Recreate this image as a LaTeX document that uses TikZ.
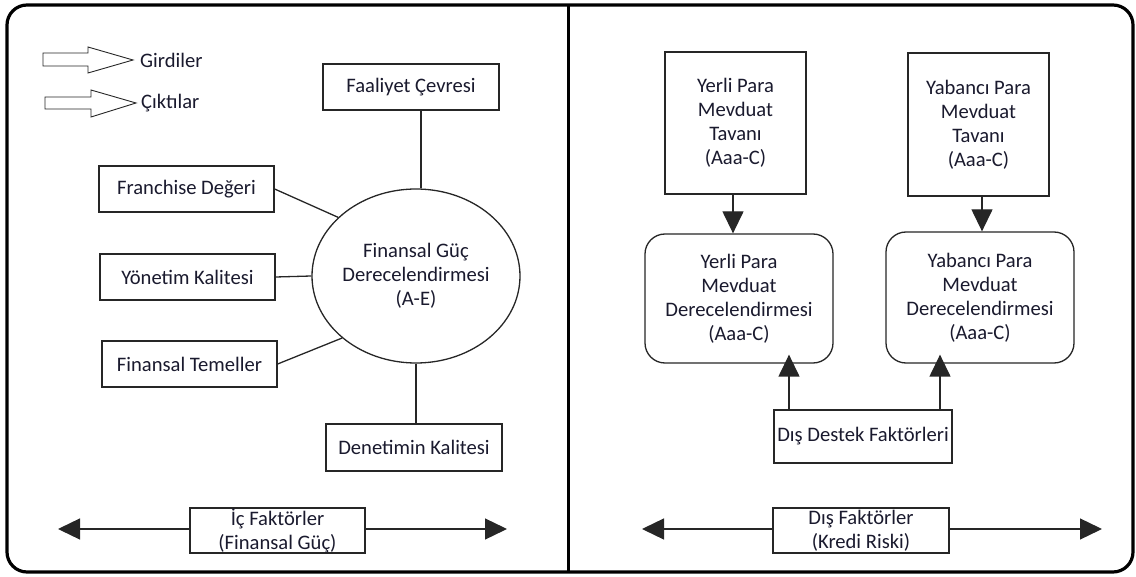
\documentclass[tikz,border=0pt]{standalone}
\usepackage{fontspec}
\setmainfont{Carlito}
\usetikzlibrary{arrows.meta,shapes.geometric}
\definecolor{txt}{HTML}{1A1A2E}
\begin{document}
\begin{tikzpicture}[x=1pt,y=-1pt,
  font=\fontsize{20.6}{24}\selectfont,
  box/.style={draw=black!85, line width=1.3pt, fill=white, text=txt, align=center, inner sep=0pt},
  rbox/.style={box, rounded corners=20pt},
  con/.style={draw=black!85, line width=1.3pt},
  tip/.style={con, -{Triangle[length=22pt,width=21pt]}},
  legarrow/.style={draw=black!85, line width=0.9pt, fill=white},
  lbl/.style={text=txt, inner sep=0pt, anchor=west}]
\useasboundingbox (0,0) rectangle (1136,577);
% frame
\draw[line width=3.2pt, rounded corners=20pt] (7,5) rectangle (1133,572);
\draw[line width=3.2pt] (568.5,5) -- (568.5,572);
% legend
\draw[legarrow] (43,53) -- (88,53) -- (88,47) -- (133,60) -- (88,73) -- (88,66) -- (43,66) -- cycle;
\node[lbl] (gir) at (140,60) {Girdiler};
\draw[legarrow] (45,97) -- (91,97) -- (91,90) -- (136,103) -- (91,117) -- (91,109) -- (45,109) -- cycle;
\node[lbl] (cik) at (141,103) {Çıktılar};
% left side
\node[box, minimum width=176pt, minimum height=46pt] (fa) at (411,87) {Faaliyet Çevresi};
\node[box, ellipse, minimum width=196pt, minimum height=174pt] (fg) at (416,276) {Finansal Güç\\Derecelendirmesi\\(A-E)};
\node[box, minimum width=175pt, minimum height=46pt] (fr) at (186.5,189) {Franchise Değeri};
\node[box, minimum width=175pt, minimum height=46pt] (yo) at (187.5,277) {Yönetim Kalitesi};
\node[box, minimum width=175pt, minimum height=46pt] (ft) at (189.5,364) {Finansal Temeller};
\node[box, minimum width=176pt, minimum height=47pt] (de) at (414,447.5) {Denetimin Kalitesi};
\draw[con] ([xshift=10pt]fa.south) -- ([xshift=5pt]fg.north);
\draw[con] (fr.east) -- (fg.143);
\draw[con] (yo.east) -- (fg.west);
\draw[con] (ft.east) -- (fg.220);
\draw[con] (fg.south) -- (fg.south |- de.north);
\node[box, minimum width=175pt, minimum height=45pt] (ic) at (277.5,530.5) {İç Faktörler\\(Finansal Güç)};
\coordinate (icL) at (58,529);
\coordinate (icR) at (507,529);
\draw[tip] (ic.west |- icL) -- (icL);
\draw[tip] (ic.east |- icR) -- (icR);
% right side
\node[box, minimum width=141pt, minimum height=142pt] (yt) at (735.5,123) {Yerli Para\\Mevduat\\Tavanı\\(Aaa-C)};
\node[box, minimum width=141pt, minimum height=143pt] (bt) at (978.5,124.5) {Yabancı Para\\Mevduat\\Tavanı\\(Aaa-C)};
\node[rbox, minimum width=188pt, minimum height=129pt] (yd) at (739,298.5) {Yerli Para\\Mevduat\\Derecelendirmesi\\(Aaa-C)};
\node[rbox, minimum width=188pt, minimum height=131pt] (bd) at (980,297.5) {Yabancı Para\\Mevduat\\Derecelendirmesi\\(Aaa-C)};
\node[box, minimum width=178pt, minimum height=53pt] (dd) at (863,436.5) {Dış Destek Faktörleri};
\draw[tip] (733,0 |- yt.south) -- (733,0 |- yd.north);
\draw[tip] (982,0 |- bt.south) -- (982,0 |- bd.north);
\draw[tip] (789,0 |- dd.north) -- ([yshift=9pt]789,0 |- yd.south);
\draw[tip] (940,0 |- dd.north) -- ([yshift=9pt]940,0 |- bd.south);
\node[box, minimum width=176pt, minimum height=45pt] (df) at (861,530.5) {Dış Faktörler\\(Kredi Riski)};
\coordinate (dfL) at (642,529);
\coordinate (dfR) at (1102,529);
\draw[tip] (df.west |- dfL) -- (dfL);
\draw[tip] (df.east |- dfR) -- (dfR);
\end{tikzpicture}
\end{document}
